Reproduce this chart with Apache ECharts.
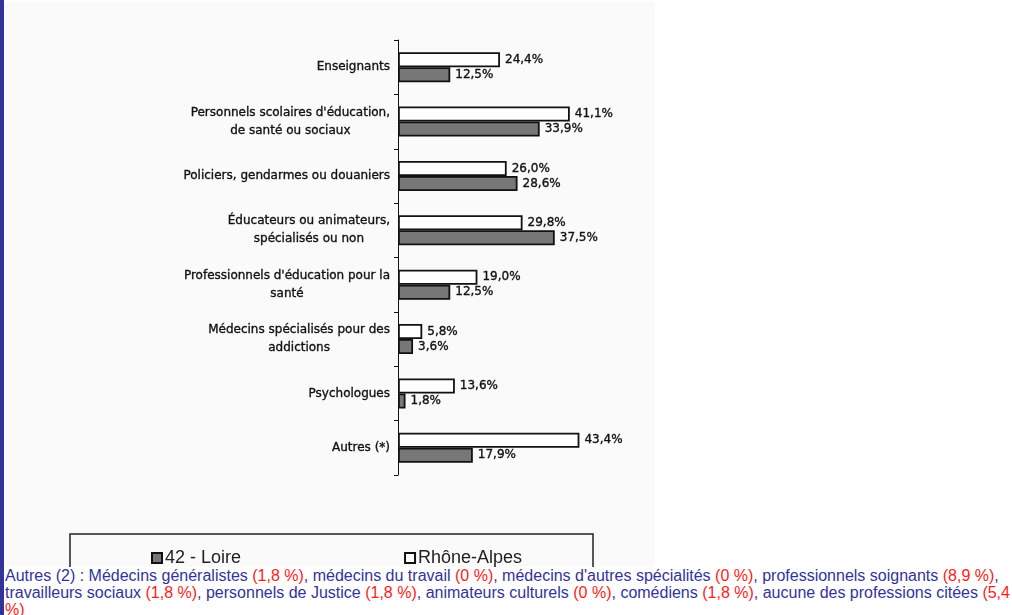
<!DOCTYPE html>
<html>
<head>
<meta charset="utf-8">
<script src="https://cdn.jsdelivr.net/npm/echarts@6/dist/echarts.min.js"></script>
<style>
  html, body { margin: 0; padding: 0; background: #fff; }
  #page { position: relative; width: 1012px; height: 615px; overflow: hidden; }
  #edge { position: absolute; left: 0; top: 0; width: 4px; height: 615px; background: #33339a; }
  #plate { position: absolute; left: 5px; top: 2px; width: 650px; height: 566px; background: #fafafa; }
  #chart { position: absolute; left: 0; top: 0; width: 1012px; height: 615px; }
  #note {
    position: absolute; left: 5px; top: 567px; width: 1007px; height: 60px;
    background: #fff; color: #33339a; white-space: nowrap;
    font-family: "Liberation Sans", Arial, sans-serif; font-size: 16px; line-height: 17px;
  }
  #note .v { color: #ff1a1a; }
</style>
</head>
<body>
<div id="page">
  <div id="edge"></div>
  <div id="plate"></div>
  <div id="chart"></div>
  <div id="note">Autres (2) : Médecins généralistes <span class="v">(1,8 %)</span>, médecins du travail <span class="v">(0 %)</span>, médecins d'autres spécialités <span class="v">(0 %)</span>, professionnels soignants <span class="v">(8,9 %)</span>,<br>travailleurs sociaux <span class="v">(1,8 %)</span>, personnels de Justice <span class="v">(1,8 %)</span>, animateurs culturels <span class="v">(0 %)</span>, comédiens <span class="v">(1,8 %)</span>, aucune des professions citées <span class="v">(5,4</span><br><span class="v">%)</span></div>
</div>
<script>
// categories, top to bottom
const categories = [
    'Enseignants',
    "Personnels scolaires d'éducation,\nde santé ou sociaux",
    'Policiers, gendarmes ou douaniers',
    'Éducateurs ou animateurs,\nspécialisés ou non',
    "Professionnels d'éducation pour la\nsanté",
    'Médecins spécialisés pour des\naddictions',
    'Psychologues',
    'Autres (*)'
];
const rhoneAlpes = [24.4, 41.1, 26.0, 29.8, 19.0, 5.8, 13.6, 43.4];
const loire = [12.5, 33.9, 28.6, 37.5, 12.5, 3.6, 1.8, 17.9];
const legendNames = ['42 - Loire', 'Rhône-Alpes'];

// small pixel-ish font, thickened a little with a thin outline
const smallFont = {
    fontFamily: 'DejaVu Sans', fontSize: 12, color: '#111',
    textBorderColor: '#111', textBorderWidth: 0.35
};
const pct = v => v.toFixed(1).replace('.', ',') + '%';

const chart = echarts.init(document.getElementById('chart'));

function barSeries(name, data, fill) {
    return {
        name: name,
        type: 'bar',
        data: data,
        barWidth: 15,
        barGap: '0%',
        itemStyle: { color: fill, borderColor: '#111', borderWidth: 1.8 },
        label: {
            show: true,
            position: 'right',
            distance: 5,
            formatter: p => pct(p.value),
            ...smallFont
        }
    };
}

chart.setOption({
    animation: false,
    backgroundColor: 'transparent',
    grid: { left: 398, top: 40, width: 209, height: 435, containLabel: false },
    xAxis: {
        type: 'value', min: 0, max: 50, show: false
    },
    yAxis: {
        type: 'category',
        data: categories,
        inverse: true,
        axisLine: { lineStyle: { color: '#111', width: 1 } },
        axisTick: { show: true, length: 4, lineStyle: { color: '#111' } },
        axisLabel: {
            margin: 8,
            align: 'right',
            formatter: v => v.split('\n').map(l => '{c|' + l + '}').join('\n'),
            rich: { c: { align: 'center', lineHeight: 18, ...smallFont } }
        }
    },
    legend: {
        data: legendNames,
        left: 146,
        top: 544,
        itemGap: 163,
        itemWidth: 10,
        itemHeight: 10,
        icon: 'rect',
        textStyle: { fontFamily: 'Liberation Sans', fontSize: 18, color: '#222', padding: [0, 0, 0, -2] }
    },
    graphic: [{
        type: 'rect',
        shape: { x: 70, y: 534, width: 523, height: 60 },
        style: { fill: 'transparent', stroke: '#222', lineWidth: 1.5 },
        z: -1
    }],
    series: [
        barSeries('Rhône-Alpes', rhoneAlpes, '#ffffff'),
        barSeries('42 - Loire', loire, '#777777')
    ]
});
</script>
</body>
</html>
